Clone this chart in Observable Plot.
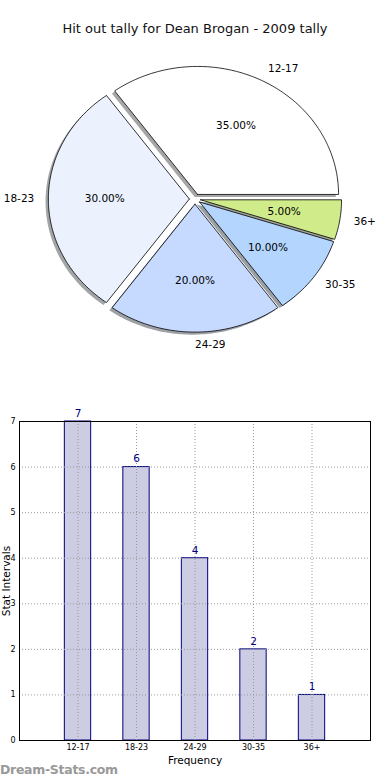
<!DOCTYPE html>
<html>
<head>
<meta charset="utf-8">
<script src="https://cdn.jsdelivr.net/npm/d3@7"></script>
<script src="https://cdn.jsdelivr.net/npm/@observablehq/plot@0.6"></script>
<style>
  html, body { margin: 0; padding: 0; background: #fff; }
  #root { position: relative; width: 390px; height: 780px; overflow: hidden; font-family: "DejaVu Sans", sans-serif; }
  #title { position: absolute; left: 0; top: 21px; width: 390px; text-align: center; font-size: 13px; color: #111; }
  #pie { position: absolute; left: 0; top: 0; }
  #bar { position: absolute; left: 0; top: 390px; }
  #mark { position: absolute; left: 0; top: 762px; font-size: 12.5px; color: #999; font-weight: 600; letter-spacing: -0.3px; }
  svg { font-family: "DejaVu Sans", sans-serif; overflow: visible; }
</style>
</head>
<body>
<div id="root">
  <div id="pie"></div>
  <div id="bar"></div>
  <div id="title">Hit out tally for Dean Brogan - 2009 tally</div>
  <div id="mark">Dream-Stats.com</div>
</div>
<script>
// ---- data ----
const title = "Hit out tally for Dean Brogan - 2009 tally";
const categories = ["12-17", "18-23", "24-29", "30-35", "36+"];
const counts = [7, 6, 4, 2, 1];
const pieColors = ["#ffffff", "#ebf2fe", "#c6d9fe", "#b4d6fe", "#cfeb8a"];
const yTicks = [0, 1, 2, 3, 4, 5, 6, 7];
const explode = 0.04;

// ---- pie geometry (in data units, radius 1) ----
const total = d3.sum(counts);
let acc = 0;
const wedges = counts.map((v, i) => {
  const t1 = acc / total * 360;
  acc += v;
  const t2 = acc / total * 360;
  const mid = (t1 + t2) / 2 * Math.PI / 180;
  return {i, cat: categories[i], v, t1, t2, mid,
          ox: explode * Math.cos(mid), oy: explode * Math.sin(mid),
          pct: (v / total * 100).toFixed(2) + "%"};
});
function wedgePoints(w, dx, dy) {
  const pts = [{x: w.ox + dx, y: w.oy + dy}];
  const n = Math.max(2, Math.ceil((w.t2 - w.t1) / 1));
  for (let k = 0; k <= n; k++) {
    const t = (w.t1 + (w.t2 - w.t1) * k / n) * Math.PI / 180;
    pts.push({x: w.ox + dx + Math.cos(t), y: w.oy + dy + Math.sin(t)});
  }
  pts.push({x: w.ox + dx, y: w.oy + dy});
  return pts;
}
function shade(c) {
  const r = d3.rgb(c);
  return d3.rgb(r.r * 0.3, r.g * 0.3, r.b * 0.3).formatHex();
}

const cx = 194.5, cy = 198.5, rx = 141, ry = 128, PH = 390;
const shadowMarks = wedges.map(w => Plot.line(wedgePoints(w, -0.02, -0.02),
  {x: "x", y: "y", fill: shade(pieColors[w.i]), fillOpacity: 0.5, stroke: "none", curve: "linear"}));
const wedgeMarks = wedges.map(w => Plot.line(wedgePoints(w, 0, 0),
  {x: "x", y: "y", fill: pieColors[w.i], stroke: "#000", strokeWidth: 0.8, strokeLinejoin: "miter", curve: "linear"}));
const labelData = wedges.map(w => ({
  x: w.ox + 1.1 * Math.cos(w.mid), y: w.oy + 1.1 * Math.sin(w.mid),
  px: w.ox + 0.6 * Math.cos(w.mid), py: w.oy + 0.6 * Math.sin(w.mid),
  cat: w.cat, pct: w.pct, left: Math.cos(w.mid) > -0.5
}));

const pie = Plot.plot({
  width: 390, height: PH, margin: 0,
  x: {domain: [(0 - cx) / rx, (390 - cx) / rx]},
  y: {domain: [(cy - PH) / ry, cy / ry]},
  axis: null,
  marks: [
    ...shadowMarks,
    ...wedgeMarks,
    Plot.text(labelData.filter(d => d.left), {x: "x", y: "y", text: "cat", textAnchor: "start", fontSize: 10.5, fill: "#000"}),
    Plot.text(labelData.filter(d => !d.left), {x: "x", y: "y", text: "cat", textAnchor: "end", fontSize: 10.5, fill: "#000"}),
    Plot.text(labelData, {x: "px", y: "py", text: "pct", fontSize: 10.5, fill: "#000"})
  ]
});
document.getElementById("pie").appendChild(pie);

// ---- bar chart ----
const bars = categories.map((c, i) => ({i, cat: c, value: counts[i]}));
const idx = categories.map((c, i) => i);
const bar = Plot.plot({
  width: 390, height: 390,
  marginTop: 31, marginBottom: 40, marginLeft: 19, marginRight: 20,
  x: {domain: [-1, 5]},
  y: {domain: [0, 7]},
  marks: [
    Plot.rectY(bars, {x1: d => d.i - 0.225, x2: d => d.i + 0.225, y1: 0, y2: "value",
      fill: "#ccccE3", stroke: "#000080", strokeWidth: 1}),
    Plot.gridY(yTicks, {stroke: "#9a9a9a", strokeOpacity: 1, strokeDasharray: "1,2", strokeWidth: 1}),
    Plot.gridX(idx, {stroke: "#9a9a9a", strokeOpacity: 1, strokeDasharray: "1,2", strokeWidth: 1}),
    Plot.frame({stroke: "#000", strokeWidth: 1}),
    Plot.axisY(yTicks, {tickSize: 0, tickPadding: 4, fontSize: 8, label: null, tickFormat: d => String(d)}),
    Plot.axisX(idx, {tickSize: 0, tickPadding: 4, fontSize: 8, label: null, tickFormat: i => categories[i]}),
    Plot.text(bars, {x: "i", y: "value", text: d => String(d.value), dy: -8, fill: "#000080", fontSize: 10.5}),
    Plot.text(["Frequency"], {frameAnchor: "bottom", lineAnchor: "middle", dy: 20, fontSize: 10.5, fill: "#000"}),
    Plot.text(["Stat Intervals"], {frameAnchor: "left", textAnchor: "middle", lineAnchor: "middle", rotate: -90, dx: -13, fontSize: 10.5, fill: "#000"})
  ]
});
document.getElementById("bar").appendChild(bar);
</script>
</body>
</html>
